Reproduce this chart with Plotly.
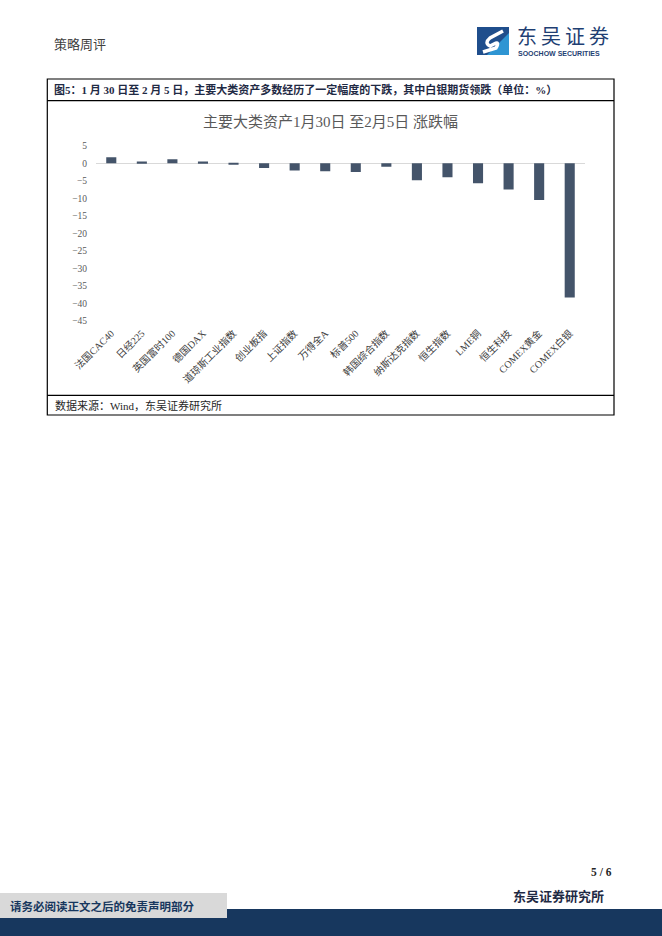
import plotly.graph_objects as go

categories = ["法国CAC40", "日经225", "英国富时100", "德国DAX", "道琼斯工业指数", "创业板指",
              "上证指数", "万得全A", "标普500", "韩国综合指数", "纳斯达克指数", "恒生指数",
              "LME铜", "恒生科技", "COMEX黄金", "COMEX白银"]
changes = [1.7, 0.5, 1.1, 0.5, -0.3, -1.4, -2.1, -2.3, -2.5, -1.0, -4.9, -4.0, -5.7, -7.5, -10.5, -38.4]
y_ticks = [5, 0, -5, -10, -15, -20, -25, -30, -35, -40, -45]

W, H = 662, 936
def px(x): return x / W
def py(y): return 1 - y / H

SERIF = "Liberation Serif, Noto Sans CJK SC, serif"
SANS = "Noto Sans CJK SC, sans-serif"

fig = go.Figure()
fig.add_trace(go.Bar(x=categories, y=changes, marker_color="#44546a", width=0.33,
                     hovertemplate="%{x}: %{y}<extra></extra>"))

fig.update_layout(
    template="none",
    width=W, height=H, margin=dict(l=0, r=0, t=0, b=0, autoexpand=False),
    paper_bgcolor="white", plot_bgcolor="white", showlegend=False, bargap=0.67,
    xaxis=dict(domain=[px(96), px(585)], anchor="y", tickangle=-45, showline=False,
               automargin=False, showgrid=False, ticks="", zeroline=False, ticklabelstandoff=4,
               tickfont=dict(family=SERIF, size=10, color="#404040")),
    yaxis=dict(domain=[py(320.7), py(145.7)], range=[-45, 5], tickvals=y_ticks,
               automargin=False, showgrid=False, zeroline=True, zerolinecolor="#d9d9d9",
               zerolinewidth=1, showline=False, ticks="", ticklabelstandoff=8,
               tickfont=dict(family=SERIF, size=9.5, color="#595959")),
)

shapes = []
# chart frame
shapes.append(dict(type="rect", xref="paper", yref="paper", x0=px(47.3), x1=px(614),
                   y0=py(415), y1=py(79), line=dict(color="black", width=1.2)))
shapes.append(dict(type="line", xref="paper", yref="paper", x0=px(47.3), x1=px(614),
                   y0=py(100.7), y1=py(100.7), line=dict(color="black", width=1.2)))
shapes.append(dict(type="line", xref="paper", yref="paper", x0=px(47.3), x1=px(614),
                   y0=py(395.3), y1=py(395.3), line=dict(color="black", width=1.2)))
# bottom bands
shapes.append(dict(type="rect", xref="paper", yref="paper", x0=0, x1=1,
                   y0=0, y1=py(909), line=dict(width=0), fillcolor="#17375e"))
shapes.append(dict(type="rect", xref="paper", yref="paper", x0=0, x1=px(227),
                   y0=py(918), y1=py(893), line=dict(width=0), fillcolor="#d9d9d9"))
# logo icon
shapes.append(dict(type="rect", xref="paper", yref="paper", x0=px(477), x1=px(509),
                   y0=py(55), y1=py(27), line=dict(width=0), fillcolor="#1f4e8c"))
shapes.append(dict(type="path", xref="paper", yref="paper",
                   path=f"M {px(509)} {py(33)} L {px(509)} {py(55)} L {px(487)} {py(55)} Z",
                   line=dict(width=0), fillcolor="#2e95d3"))
shapes.append(dict(type="path", xref="paper", yref="paper",
                   path=(f"M {px(503)} {py(31)} L {px(490)} {py(38)} Q {px(484)} {py(43)} {px(490)} {py(46)} "
                         f"L {px(494)} {py(44)} Q {px(500)} {py(41)} {px(496)} {py(48)} L {px(483)} {py(52)}"),
                   line=dict(color="white", width=3.5)))
fig.update_layout(shapes=shapes)

ann = []
def A(x, y, text, size, color, family=SANS, xanchor="left", bold=False):
    if bold:
        text = f"<b>{text}</b>"
    ann.append(dict(x=px(x), y=py(y), xref="paper", yref="paper", text=text, showarrow=False,
                    xanchor=xanchor, yanchor="middle", borderpad=0,
                    font=dict(family=family, size=size, color=color)))

A(53, 43, "策略周评", 13, "#404040")
A(516, 35.5, "东\u2009吴\u2009证\u2009券", 20, "#1f3f73")
A(517, 53.5, "SOOCHOW SECURITIES", 7, "#1f3f73", family="Liberation Sans, sans-serif", bold=True)
A(53, 90, "图5：1 月 30 日至 2 月 5 日，主要大类资产多数经历了一定幅度的下跌，其中白银期货领跌（单位：%）",
  11, "#1f2a44", family=SERIF, bold=True)
A(330, 122, "主要大类资产1月30日 至2月5日 涨跌幅", 15, "#595959", family=SERIF, xanchor="center")
A(54, 405, "数据来源：Wind，东吴证券研究所", 11, "#262626", family=SERIF)
A(613, 872, "5 / 6", 11.5, "#262626", family=SERIF, xanchor="right", bold=True)
A(605, 896, "东吴证券研究所", 13, "#1f2a44", family=SERIF, xanchor="right", bold=True)
A(9, 906, "请务必阅读正文之后的免责声明部分", 11.5, "#17375e", family=SERIF, bold=True)
fig.update_layout(annotations=ann)

fig.write_html("out.html", config={"displayModeBar": False},
               post_script="document.body.style.margin='0';")
